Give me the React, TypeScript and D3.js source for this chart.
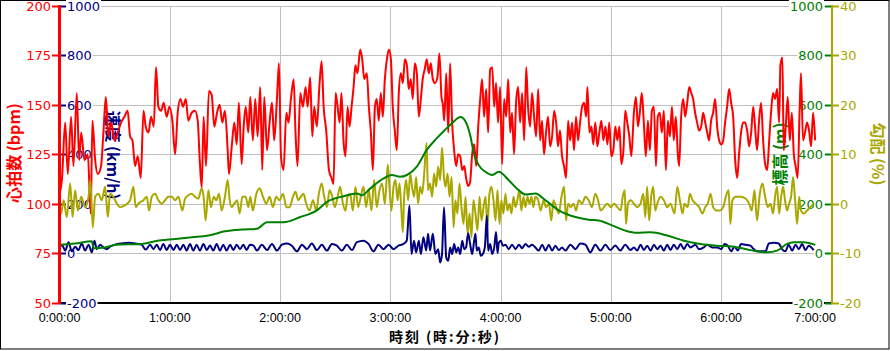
import React, { useEffect, useRef } from 'react';
import * as d3 from 'd3';

// [minutes, bpm]
const heartRate: [number, number][] = [
  [0, 105], [1.3, 112], [3.1, 141], [4.5, 115], [6.3, 144], [7.6, 119], [9.4, 156], [10.7, 122],
  [11.8, 136], [13.6, 122], [15.4, 125], [17, 95], [17.9, 142], [19.4, 122], [20.8, 115], [22.6, 119],
  [23.9, 136], [25.2, 154], [26.6, 134], [28.1, 141], [29.9, 132], [31.7, 136], [33.5, 141], [35.3, 144],
  [37.1, 147], [38.4, 134], [39.7, 132], [41.1, 119], [42.6, 124], [44.2, 113], [45.7, 147], [46.9, 139],
  [48.4, 136], [49.8, 144], [51.3, 139], [52.5, 169], [53.8, 149], [55.3, 147], [56.7, 151], [58.3, 144],
  [59.8, 149], [61.4, 142], [62.9, 125], [64.3, 146], [65.8, 153], [67.2, 149], [68.7, 153], [70.1, 142],
  [71.9, 146], [73.7, 147], [75.2, 142], [76.3, 122], [77.4, 108], [78.4, 144], [79.7, 119], [81.3, 157],
  [82.8, 155], [84.2, 139], [85.7, 146], [87.1, 150], [88.6, 141], [90, 147], [91.5, 127], [92.2, 115],
  [93.7, 129], [95.1, 141], [96.4, 130], [97.6, 151], [99.1, 120], [100.2, 139], [101.3, 149], [102.7, 136],
  [103.8, 154], [105.2, 132], [106.5, 153], [107.8, 134], [109.2, 159], [110.3, 117], [111.4, 154], [112.9, 127],
  [114.3, 141], [115.6, 151], [116.8, 132], [118.3, 153], [119.4, 171], [120.5, 124], [121.9, 117], [123.4, 146],
  [124.6, 141], [125.9, 153], [127.4, 163], [128.4, 136], [129.5, 119], [131, 156], [132.4, 149], [133.9, 159],
  [135, 149], [136.4, 164], [137.5, 134], [138.6, 149], [140, 139], [141.5, 161], [142.6, 172], [143.7, 149],
  [145.1, 137], [146.6, 117], [148, 113], [149.1, 110], [150.2, 156], [151.3, 149], [152.4, 141], [153.4, 156],
  [154.5, 132], [155.6, 124], [156.7, 149], [157.8, 139], [158.9, 149], [160, 159], [161, 170], [162.1, 166],
  [163.6, 178], [164.7, 173], [165.8, 163], [167.2, 166], [168.3, 149], [169.4, 136], [170.5, 117], [171.6, 149],
  [172.6, 153], [173.7, 142], [174.8, 156], [175.9, 144], [177, 163], [178.1, 173], [179.2, 178], [180.3, 173],
  [181.3, 149], [182.4, 137], [183.5, 127], [184.6, 156], [185.7, 166], [186.8, 161], [187.9, 173], [189, 170],
  [190, 158], [191.1, 163], [192.2, 153], [193.3, 171], [194.4, 166], [195.5, 144], [196.6, 153], [197.6, 163],
  [198.7, 168], [199.8, 173], [200.9, 166], [202, 171], [203.1, 163], [204.3, 161], [205.6, 164], [206.7, 176],
  [207.8, 154], [208.6, 150], [209.3, 142], [210.4, 166], [211.5, 136], [212.5, 171], [213.6, 141], [214.7, 127],
  [215.8, 119], [216.9, 125], [218, 124], [219.1, 117], [220.2, 119], [221.2, 113], [222.3, 109], [223.4, 111],
  [224.5, 125], [225.6, 130], [226.7, 119], [227.8, 139], [228.9, 153], [229.9, 163], [231, 144], [232.1, 158],
  [233.2, 136], [234.3, 168], [235.4, 169], [236.5, 149], [237.5, 161], [238.6, 141], [239.7, 159], [240.8, 120],
  [241.9, 153], [243, 144], [244.1, 163], [245.2, 136], [246.2, 146], [247.3, 125], [248.4, 151], [249.5, 159],
  [250.6, 141], [251.7, 156], [252.8, 132], [253.9, 169], [254.9, 149], [256, 139], [257.1, 156], [258.2, 144],
  [259.3, 134], [260.4, 158], [261.5, 132], [262.5, 142], [263.6, 125], [264.7, 136], [265.8, 144], [266.9, 129],
  [268, 134], [269.1, 147], [270.2, 141], [271.2, 129], [272.3, 137], [273.4, 124], [274.5, 119], [275.6, 113],
  [276.7, 142], [277.8, 132], [278.9, 141], [279.9, 127], [281, 144], [282.1, 132], [283.2, 141], [284.3, 149],
  [285.4, 151], [286.5, 144], [287.2, 159], [288.3, 136], [289.4, 139], [290.4, 130], [291.5, 141], [292.6, 129],
  [293.7, 136], [294.8, 142], [295.9, 132], [297, 139], [298.1, 130], [299.1, 141], [300.2, 124], [301.3, 127],
  [302.4, 139], [303.5, 132], [304.6, 139], [305.7, 120], [306.8, 127], [307.8, 147], [308.9, 141], [310, 134],
  [311.1, 124], [312.5, 146], [313.6, 154], [314.7, 139], [315.8, 147], [316.8, 156], [317.9, 141], [319, 124],
  [320.1, 142], [321.2, 127], [322.3, 147], [323.4, 149], [324.5, 119], [325.5, 144], [326.6, 146], [327.7, 136],
  [328.8, 147], [329.9, 117], [331, 142], [332.1, 134], [333.2, 149], [334.2, 132], [335.3, 144], [336.4, 125],
  [337.1, 119], [338.2, 144], [339.3, 153], [340.4, 144], [341.5, 151], [342.6, 159], [343.7, 156], [344.7, 153],
  [345.8, 146], [346.9, 141], [348, 137], [349.1, 139], [350.2, 146], [351.3, 141], [352.4, 136], [353.4, 132],
  [354.5, 142], [355.6, 146], [356.7, 153], [357.8, 139], [358.9, 132], [360, 130], [361.1, 132], [362.1, 141],
  [363.2, 149], [364.3, 158], [365.4, 151], [366.5, 144], [367.6, 122], [368.7, 113], [369.7, 125], [370.8, 136],
  [371.9, 141], [373, 141], [374.1, 137], [375.2, 129], [376.3, 136], [377.4, 149], [378.4, 139], [379.5, 127],
  [380.6, 142], [381.7, 151], [382.8, 132], [383.9, 120], [385, 117], [386.1, 132], [387.1, 146], [388.2, 156],
  [389.3, 153], [390.4, 158], [391.5, 141], [392.2, 170], [393.3, 174], [394, 127], [395.1, 139], [396.2, 154],
  [397.3, 132], [398.4, 146], [399.5, 125], [400.5, 119], [401.6, 113], [402.7, 149], [403.4, 166], [404.5, 132],
  [405.6, 136], [406.7, 141], [407.8, 137], [408.9, 129], [410, 146], [411.1, 132],
];

// [minutes, km/h]
const speed: [number, number][] = [
  [0, 16], [1.3, 34], [3.1, 10], [4.9, 44], [6.7, 7], [8.5, 26], [10.3, 12], [12.1, 39], [13.9, 10],
  [15.8, 34], [17.6, 3], [19, 50], [20.3, 16], [22.1, 34], [23.9, 23], [25.7, 16], [27.5, 26], [30.3, 34],
  [33.9, 39], [37.5, 42], [41.1, 39], [44.7, 34], [46.9, 14], [49.3, 34], [51.1, 16], [52.9, 34], [54.7, 12],
  [56.5, 37], [58.3, 12], [60.1, 34], [62, 12], [63.8, 34], [65.6, 12], [67.4, 34], [69.2, 10], [71, 37],
  [72.8, 10], [74.6, 34], [76.4, 10], [78.3, 37], [80.1, 12], [81.9, 31], [83.7, 10], [85.5, 37], [87.3, 10],
  [89.1, 34], [90.9, 10], [92.8, 34], [94.6, 12], [96.4, 34], [98.2, 16], [100, 34], [101.8, 12], [103.6, 34],
  [105.6, 30], [107.4, 10], [110.1, 34], [112.9, 12], [115.6, 37], [118.3, 10], [121, 34], [123.7, 39],
  [126.4, 30], [129.2, 7], [131.9, 34], [134.6, 16], [137.3, 39], [140, 12], [142.7, 34], [145.5, 10],
  [148.2, 37], [150.9, 30], [153.6, 10], [156.3, 34], [159.1, 12], [161.8, 44], [165.4, 50], [168.1, 37],
  [170.8, 7], [173.5, 34], [176.3, 16], [179, 34], [181.7, 16], [184.4, 30], [187.1, 37], [188.9, 50],
  [190.4, 193], [191.5, -4], [192.9, 50], [194, 3], [195.5, 50], [196.6, -4], [198, 64], [199.5, 10],
  [200.5, 78], [201.6, 10], [203.1, 78], [204.5, -4], [206, 16], [207.1, -38], [208.1, -4], [209.2, 186],
  [210.4, -18], [211.5, -31], [212.5, 23], [213.6, -4], [214.7, 37], [215.8, 3], [216.9, 23], [218, -4],
  [219.1, 50], [220.2, 16], [221.2, 23], [222.3, 80], [223.4, 37], [224.5, -4], [225.6, 50], [226.3, 78],
  [227, 10], [228.1, 23], [229.2, -11], [230.3, -4], [231.4, 23], [232.5, 152], [233.2, 10], [234.3, 37],
  [235.4, -4], [236.5, 23], [237.5, 85], [238.3, 0], [239, 42], [240.1, 50], [241.2, 30], [242.6, 34],
  [244.4, 16], [246.2, 34], [248.1, 16], [249.9, 34], [251.7, 20], [253.5, 37], [255.3, 26], [257.1, 34],
  [258.9, 23], [260.7, 10], [262.6, 34], [264.4, 10], [266.2, 34], [268, 10], [269.8, 30], [271.6, 12],
  [273.4, 23], [275.2, 10], [278, 34], [280.7, 16], [283.4, 39], [286.1, 34], [288.8, 3], [291.5, 34],
  [294.3, 10], [297, 34], [299.7, 12], [302.4, 31], [305.1, 10], [307.8, 34], [310.6, 12], [312.5, 23],
  [314.3, 10], [316.1, 34], [317.9, 12], [319.7, 30], [321.6, 10], [323.4, 34], [325.2, 16], [327, 30],
  [328.8, 10], [330.6, 34], [332.4, 12], [334.2, 34], [336.1, 16], [337.9, 37], [339.7, 16], [341.5, 37],
  [343.3, 23], [346, 34], [347.8, 16], [350.5, 23], [352.4, 34], [355.1, 23], [357.8, 23], [360, 16],
  [361.8, 37], [363.6, 30], [365.4, 7], [367.2, 26], [369, 10], [370.8, 37], [373.2, 34], [375.9, 30],
  [377.7, 16], [379.5, 7], [381.3, 7], [384.1, 7], [385.9, 39], [388.6, 42], [391.3, 39], [393.1, 16],
  [394.9, 7], [396.7, 34], [398.6, 10], [400.4, 34], [402.2, 16], [404, 37], [405.8, 12], [407.6, 30],
  [410.3, 12],
];

// [minutes, m]
const elevation: [number, number][] = [
  [0, 34], [8.5, 39], [17.6, 48], [18.5, 20], [24.8, 23], [30.3, 34], [44.7, 37], [52, 48], [62.9, 57],
  [72, 64], [81, 71], [90, 88], [99, 95], [107.4, 98], [112.9, 125], [121.9, 125], [131, 146], [140, 173],
  [145.5, 207], [154.5, 230], [161.8, 241], [164.5, 234], [169, 261], [176.3, 302], [180.8, 316],
  [185.3, 309], [189, 316], [194.4, 350], [199.8, 418], [205.3, 465], [209.8, 499], [213.6, 526],
  [218.2, 551], [220.9, 533], [223.6, 472], [225.4, 404], [228.1, 356], [231.7, 329], [235.4, 316],
  [239, 329], [244.4, 295], [249.9, 254], [253.5, 237], [258.9, 241], [264.4, 214], [271.6, 173],
  [280.7, 146], [287.9, 135], [293.3, 132], [300.6, 112], [307.8, 91], [314, 82], [321.6, 84], [330.6, 71],
  [339.7, 50], [348.7, 37], [357.8, 30], [366.8, 26], [375.9, 12], [385, 3], [390.4, 10], [395.8, 37],
  [399.5, 44], [404.9, 44], [411.2, 33],
];

// [minutes, %]
const gradient: [number, number][] = [
  [0, 0.7], [0.9, -2], [2.2, 0.7], [4, -2.7], [5.8, 4.1], [7.1, -2.7], [8.5, 2.7], [10, -1.4], [11.8, 1.4],
  [13.9, -0.7], [15.8, 1.4], [16.8, 4.8], [18.1, -4.8], [19.4, 1.4], [21.2, 2], [23, 0.7], [24.8, 3.4],
  [26.3, -2.7], [27.5, 2], [29.3, 1.4], [31.2, 0], [33, -0.7], [35.7, -0.3], [38.4, 0.7], [40.2, 3.4],
  [41.5, -0.7], [42.9, 0], [45.7, 0.7], [47.5, 1.4], [48.7, -1.4], [50.2, 1.4], [52, 2], [53.8, 0.7],
  [55.6, 0], [57.4, 0.7], [59.2, 1.4], [61.1, 1.4], [62.9, 0.7], [64.7, 1.4], [66.8, -1.4], [68.3, 1],
  [70.1, 1.7], [71.9, 2], [73.7, 1.4], [75.5, 1], [77.4, 3.1], [78.4, 1.4], [79.5, -3.4], [81, 2.7],
  [82.4, -0.7], [83.9, 1.4], [85.3, 0.7], [86.8, 2], [88.2, -1.4], [90, 1.4], [91.5, 4.8], [92.6, 0.7],
  [93.7, -0.7], [95.1, 0], [96.6, 0.7], [98, -2], [99.5, 1.4], [101.3, 1.4], [102.7, -0.7], [103.8, 1.4],
  [105.2, -1.4], [107.1, 2], [108.9, 3.1], [110.7, 1.4], [112.5, 0], [114.3, 1.4], [116.1, -0.7],
  [117.9, 1.4], [119.7, 0.7], [121.6, 2], [123.4, -0.7], [125.2, -0.7], [127, 1.4], [128.4, 2.4],
  [129.9, 0.7], [131.3, 1.4], [132.8, 2], [134.2, 0], [136, -1.4], [137.9, 0.7], [139.7, -1.4], [141.1, 2],
  [142.6, 4.1], [144, 1.4], [145.5, -0.7], [146.9, 2.7], [148.4, 1.4], [149.8, -0.7], [151.3, 1.4],
  [152.7, 3.4], [154.2, 0], [155.6, -1.4], [156.7, 1.4], [158.1, 2], [159.6, -1.4], [161, 3.4], [162.5, -0.7],
  [163.9, 1.4], [165.4, 3.4], [166.8, -0.7], [168.3, 2.7], [169.7, -1.4], [171.2, 4.8], [172.6, -0.7],
  [174.1, 2.7], [175.5, 4.1], [177, 0], [178.6, 7.9], [179.5, 3.4], [180.6, -1.4], [181.7, 3.4], [182.8, 4.8],
  [183.9, 0.7], [185, 4.1], [186, -1.4], [186.8, -5.8], [187.5, 1.4], [188.6, 4.8], [189.7, 0.7], [190.8, 6.1],
  [191.8, 3.4], [192.9, 1.4], [194, 5.4], [195.1, 0], [196.2, 3.4], [197.3, 2], [198.4, 6.1], [199.7, 12.3],
  [200.5, 2.7], [201.6, 4.1], [202.7, 1.4], [203.8, 6.1], [204.9, 3.4], [206, 7.5], [207.1, 4.8], [208.1, 11.3],
  [209.3, 4.8], [210, 3.4], [211.1, 6.1], [212.2, 1.4], [213.3, 5.4], [214.4, -4.8], [215.4, 0.7], [216.5, -2],
  [217.6, 4.1], [218.7, -0.7], [219.8, -4.1], [220.9, 1.4], [222, -6.1], [223.1, -2], [224.1, -6.8],
  [225.2, 0.7], [226.3, -2], [227.4, -5.4], [228.5, 1.4], [229.6, -3.4], [230.7, -0.7], [231.8, 1.4],
  [232.8, -4.8], [233.9, 2], [235, 3.4], [236.1, 0.7], [237.2, -3.4], [238.3, 2.7], [239.4, -4.1],
  [240.4, 0.7], [241.5, -2], [242.6, 2], [243.7, -1.4], [244.8, 0], [245.9, -2], [247, 1.4], [248.1, -0.7],
  [249.1, 0.7], [250.2, 2.7], [251.3, -1.4], [252.4, 1.4], [253.5, -0.7], [254.6, 1.4], [255.7, 0],
  [256.8, 1.4], [257.8, -0.7], [258.9, 1.4], [260.4, 0.7], [261.8, -1.4], [263.3, 0.7], [264.7, -0.7],
  [266.2, 0], [267.6, -3.4], [268.7, 0.7], [270.2, -0.7], [271.6, -2], [273.1, 1.4], [274.5, 3.4],
  [275.6, -3.4], [276.7, 0], [278.1, -0.7], [279.6, 0], [281, -1.4], [282.5, 0.7], [284.3, 0], [286.1, 1.4],
  [287.9, 0.7], [289.7, -0.7], [291.5, 2], [293, 0.7], [294.4, -1.4], [296.2, -0.7], [298.1, 0],
  [299.9, -0.7], [301.7, 0], [303.5, -0.7], [305.3, -1.4], [306.4, 1.4], [307.5, 2.7], [308.2, -4.1],
  [309.3, 0], [310.7, 0.7], [312.5, 0], [314.3, -0.7], [316.1, 0], [317.6, 2], [318.7, -2.7], [319.7, 3.4],
  [320.8, -3.4], [321.9, 1.4], [323, 3.4], [324.1, -1.4], [325.2, 0], [327, 1.4], [328.8, 0.7], [330.6, -0.7],
  [332.4, 0], [334.6, -2], [336.1, 3.4], [337.5, 0.7], [339, -2], [340, 0], [341.8, -0.7], [342.9, 2],
  [344.4, 0.7], [346.2, 0], [348, -0.7], [349.8, -2], [351.3, -0.7], [352.7, 0], [354.2, 2], [355.6, -0.7],
  [357.4, -1.4], [359.2, -1.4], [361.1, -0.7], [362.5, 1.4], [364, 2.7], [365, -4.1], [366.1, 0.7],
  [367.9, 1.4], [370.5, 1.4], [373.4, 1], [375.2, 0], [376.6, -1.4], [378.1, 2.7], [379.5, -3.4], [381, 2],
  [382.4, 4.1], [383.9, 1.4], [385.3, -0.7], [386.8, 0], [388.2, -2], [389.3, 1.4], [390.4, 3.4],
  [391.5, -2], [392.6, 1.4], [393.7, 3.4], [394.7, 0.7], [395.8, -1.4], [396.9, 0], [398, 1.4], [399.1, 5.4],
  [400.2, 0.7], [401.3, -4.1], [402.4, 1.4], [403.4, -1.4], [404.9, -2], [406.7, -1.4], [408.5, -0.7],
  [410.3, 0],
];

const hrTicks = [50, 75, 100, 125, 150, 175, 200];
const speedTicks = [-200, 0, 200, 400, 600, 800, 1000];
const elevTicks = [-200, 0, 200, 400, 600, 800, 1000];
const gradTicks = [-20, -10, 0, 10, 20, 30, 40];
const hourTicks = [0, 1, 2, 3, 4, 5, 6, 7];

const RED = '#ff0000';
const NAVY = '#000080';
const GREEN = '#008000';
const OLIVE = '#aaa800';

const App = () => {
  const ref = useRef<SVGSVGElement>(null);

  useEffect(() => {
    const W = 890;
    const H = 351;
    const left = 59.5;
    const right = 831.5;
    const top = 6;
    const bottom = 302.5;

    const svg = d3.select(ref.current);
    svg.selectAll('*').remove();
    svg.append('rect').attr('width', W).attr('height', H).attr('fill', '#fff');
    svg.append('rect').attr('x', 0.5).attr('y', 0.5).attr('width', W - 1.5).attr('height', H - 2.5)
      .attr('fill', 'none').attr('stroke', '#000');

    const x = d3.scaleLinear().domain([0, 420]).range([left, right]);
    const yHr = d3.scaleLinear().domain([50, 200]).range([bottom, top]);
    const ySp = d3.scaleLinear().domain([-200, 1000]).range([bottom, top]);
    const yEl = d3.scaleLinear().domain([-200, 1000]).range([bottom, top]);
    const yGr = d3.scaleLinear().domain([-20, 40]).range([bottom, top]);

    // grid
    const grid = svg.append('g').attr('stroke', '#c0c0c0').attr('stroke-width', 1);
    hrTicks.forEach((t) => {
      const yy = Math.round(yHr(t)) + 0.5;
      grid.append('line').attr('x1', left).attr('x2', right).attr('y1', yy).attr('y2', yy);
    });
    hourTicks.slice(1, 7).forEach((h) => {
      const xx = Math.round(x(h * 60)) + 0.5;
      grid.append('line').attr('x1', xx).attr('x2', xx).attr('y1', top).attr('y2', bottom);
    });

    // x axis line
    svg.append('line').attr('x1', left).attr('x2', right + 1).attr('y1', 303).attr('y2', 303)
      .attr('stroke', '#000').attr('stroke-width', 2);

    const numFont = "'DejaVu Sans', sans-serif";

    // labels sitting inside the plot get a white backing
    const backedLabel = (g: any, tx: number, ty: number, text: string, anchor: string, color: string) => {
      const t = g.append('text').attr('x', tx).attr('y', ty).attr('dy', '0.36em')
        .attr('text-anchor', anchor).attr('fill', color).attr('font-family', numFont)
        .attr('font-size', 13).text(text);
      const bb = (t.node() as SVGTextElement).getBBox();
      g.insert('rect', () => t.node()).attr('x', bb.x - 1).attr('y', bb.y).attr('width', bb.width + 2)
        .attr('height', bb.height).attr('fill', '#fff');
    };

    const labels = svg.append('g');
    hrTicks.forEach((t) => {
      const yy = Math.round(yHr(t)) + 0.5;
      labels.append('line').attr('x1', 52).attr('x2', left).attr('y1', yy).attr('y2', yy)
        .attr('stroke', RED).attr('stroke-width', 2);
      labels.append('text').attr('x', 51).attr('y', yy).attr('dy', '0.36em').attr('text-anchor', 'end')
        .attr('fill', RED).attr('font-family', numFont).attr('font-size', 13).text(t);
    });
    speedTicks.forEach((t) => {
      const yy = Math.round(ySp(t)) + 0.5;
      labels.append('line').attr('x1', left).attr('x2', 66).attr('y1', yy).attr('y2', yy)
        .attr('stroke', NAVY).attr('stroke-width', 2);
      backedLabel(labels, 67, yy, String(t), 'start', NAVY);
    });
    elevTicks.forEach((t) => {
      const yy = Math.round(yEl(t)) + 0.5;
      labels.append('line').attr('x1', 825).attr('x2', 832).attr('y1', yy).attr('y2', yy)
        .attr('stroke', GREEN).attr('stroke-width', 2);
      backedLabel(labels, 823, yy, String(t), 'end', GREEN);
    });
    gradTicks.forEach((t) => {
      const yy = Math.round(yGr(t)) + 0.5;
      labels.append('line').attr('x1', 832).attr('x2', 839).attr('y1', yy).attr('y2', yy)
        .attr('stroke', OLIVE).attr('stroke-width', 2);
      labels.append('text').attr('x', 840).attr('y', yy).attr('dy', '0.36em')
        .attr('fill', OLIVE).attr('font-family', numFont).attr('font-size', 13).text(t);
    });

    hourTicks.forEach((h, i) => {
      const xx = x(h * 60);
      labels.append('text')
        .attr('x', i === hourTicks.length - 1 ? 836 : xx)
        .attr('y', 322)
        .attr('text-anchor', i === hourTicks.length - 1 ? 'end' : 'middle')
        .attr('font-family', "'Liberation Sans', Arial, sans-serif").attr('font-size', 12.5)
        .attr('fill', '#000').text(`${h}:00:00`);
    });

    // axis titles
    const cjk = "'Noto Sans CJK JP', sans-serif";
    const title = (tx: number, ty: number, rot: number, text: string, color: string) => {
      svg.append('text').attr('transform', `translate(${tx},${ty}) rotate(${rot})`)
        .attr('text-anchor', 'middle').attr('dy', '0.35em').attr('fill', color)
        .attr('font-family', cjk).attr('font-weight', 700).attr('font-size', 16).text(text);
    };
    title(14.5, 153, -90, '心拍数 (bpm)', RED);
    title(113, 155, 90, '速度 (km/h)', NAVY);
    title(780, 154, -90, '標高 (m)', GREEN);
    title(878, 154, 90, '勾配 (%)', OLIVE);
    svg.append('text').attr('x', 444).attr('y', 342).attr('text-anchor', 'middle')
      .attr('font-family', cjk).attr('font-weight', 700).attr('font-size', 14).attr('fill', '#000')
      .attr('textLength', 110).attr('lengthAdjust', 'spacing')
      .text('時刻 (時:分:秒)');

    // series
    const draw = (data: [number, number][], y: any, color: string) => {
      const line = d3.line<[number, number]>()
        .x((d) => x(d[0]))
        .y((d) => y(d[1]))
        .curve(d3.curveMonotoneX);
      svg.append('path').datum(data).attr('d', line).attr('fill', 'none')
        .attr('stroke', color).attr('stroke-width', 2).attr('stroke-linejoin', 'round');
    };
    draw(heartRate, yHr, RED);
    draw(gradient, yGr, OLIVE);
    draw(speed, ySp, NAVY);
    draw(elevation, yEl, GREEN);

    // axis spines
    svg.append('line').attr('x1', left).attr('x2', left).attr('y1', 5).attr('y2', 304)
      .attr('stroke', RED).attr('stroke-width', 3);
    svg.append('line').attr('x1', 832).attr('x2', 832).attr('y1', 5).attr('y2', 304)
      .attr('stroke', OLIVE).attr('stroke-width', 2);
  }, []);

  return (
    <svg
      ref={ref}
      width={890}
      height={351}
      style={{ position: 'absolute', left: 0, top: 0, display: 'block' }}
    />
  );
};

export default App;
